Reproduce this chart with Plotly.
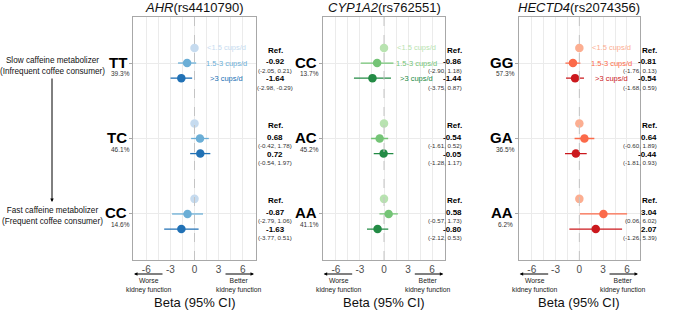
import plotly.graph_objects as go

W, H = 676, 310

genes = ["AHR", "CYP1A2", "HECTD4"]
snps = ["rs4410790", "rs762551", "rs2074356"]
genotypes = [["TT", "TC", "CC"], ["CC", "AC", "AA"], ["GG", "GA", "AA"]]
freqs = [["39.3%", "46.1%", "14.6%"], ["13.7%", "45.2%", "41.1%"], ["57.3%", "36.5%", "6.2%"]]
groups = ["<1.5 cups/d", "1.5-3 cups/d", ">3 cups/d"]

beta_ref = [[0, 0, 0], [0, 0, 0], [0, 0, 0]]
beta_mid = [[-0.92, 0.68, -0.87], [-0.86, -0.54, 0.58], [-0.81, 0.64, 3.04]]
lo_mid = [[-2.05, -0.42, -2.79], [-2.90, -1.61, -0.57], [-1.76, -0.60, 0.06]]
hi_mid = [[0.21, 1.78, 1.06], [1.18, 0.52, 1.73], [0.13, 1.89, 6.02]]
beta_high = [[-1.64, 0.72, -1.63], [-1.44, -0.05, -0.80], [-0.54, -0.44, 2.07]]
lo_high = [[-2.98, -0.54, -3.77], [-3.75, -1.28, -2.12], [-1.68, -1.81, -1.26]]
hi_high = [[-0.29, 1.97, 0.51], [0.87, 1.17, 0.53], [0.59, 0.93, 5.39]]

xticks = [-6, -3, 0, 3, 6]
xminor = [-4.5, -1.5, 1.5, 4.5]

palettes = [["#c6dbef", "#6baed6", "#2171b5"],
            ["#b8e3b0", "#74c476", "#238b45"],
            ["#fcae91", "#fb6a4a", "#cb181d"]]

panels_px = [(133, 256), (322.7, 445.3), (518.7, 640)]
top_px, bot_px = 17, 260
row_y = [3, 2, 1]
offs = [0.2, 0.0, -0.2]
yrange = [0.39, 3.61]
xrange_ = [-7.65, 7.65]


def fx(px):
    return px / W


def fy(py):
    return 1 - py / H


fig = go.Figure()
annotations = []
shapes = []
font_fam = "Liberation Sans, Arial, sans-serif"

for p in range(3):
    xa = "x" if p == 0 else f"x{p+1}"
    ya = "y" if p == 0 else f"y{p+1}"
    axn = "" if p == 0 else str(p + 1)
    cols = palettes[p]
    series = [
        (beta_ref[p], None, None),
        (beta_mid[p], lo_mid[p], hi_mid[p]),
        (beta_high[p], lo_high[p], hi_high[p]),
    ]
    for g in range(3):
        vals, lo, hi = series[g]
        ys = [row_y[i] + offs[g] for i in range(3)]
        kw = {}
        if lo is not None:
            kw["error_x"] = dict(type="data", symmetric=False,
                                 array=[hi[i] - vals[i] for i in range(3)],
                                 arrayminus=[vals[i] - lo[i] for i in range(3)],
                                 color=cols[g], thickness=1.3, width=0)
        fig.add_trace(go.Scatter(x=vals, y=ys, mode="markers", xaxis=xa, yaxis=ya,
                                 marker=dict(color=cols[g], size=8.5),
                                 showlegend=False, hoverinfo="skip", **kw))
        # group label in top row
        annotations.append(dict(x=4, y=row_y[0] + offs[g], xref=xa, yref=ya,
                                text=groups[g], showarrow=False,
                                font=dict(size=7.5, color=cols[g], family=font_fam)))

    x0, x1 = panels_px[p]
    fig.layout[f"xaxis{axn}"] = dict(domain=[fx(x0), fx(x1)], range=xrange_, anchor=ya,
                                     tickvals=xticks, ticktext=[str(t) for t in xticks],
                                     showgrid=True, gridcolor="#ebebeb", gridwidth=1,
                                     minor=dict(tickvals=xminor, showgrid=True, gridcolor="#ebebeb", gridwidth=1),
                                     zeroline=False, showline=True, linecolor="#a8a8a8",
                                     linewidth=1, mirror=True, ticks="",
                                     tickfont=dict(size=10, color="#4d4d4d", family=font_fam),
                                     fixedrange=True)
    fig.layout[f"yaxis{axn}"] = dict(domain=[fy(bot_px), fy(top_px)], range=yrange, anchor=xa,
                                     tickvals=row_y, showticklabels=False,
                                     showgrid=True, gridcolor="#ebebeb", gridwidth=1,
                                     zeroline=False, showline=True, linecolor="#a8a8a8",
                                     linewidth=1, mirror=True, ticks="outside", ticklen=3,
                                     tickcolor="#a8a8a8", fixedrange=True)
    # zero dashed line
    shapes.append(dict(type="line", xref=xa, yref=f"{ya} domain", x0=0, x1=0, y0=0, y1=1,
                       line=dict(color="#c4c4c4", width=1, dash="dash")))

    # title
    annotations.append(dict(x=fx((x0 + x1) / 2), y=fy(8), xref="paper", yref="paper",
                            text=f"<i>{genes[p]}</i>({snps[p]})", showarrow=False,
                            font=dict(size=13, color="#111111", family=font_fam),
                            xanchor="center", yanchor="middle"))
    # x title
    annotations.append(dict(x=fx((x0 + x1) / 2), y=fy(302.5), xref="paper", yref="paper",
                            text="Beta (95% CI)", showarrow=False,
                            font=dict(size=13, color="#111111", family=font_fam),
                            xanchor="center", yanchor="middle"))
    # genotype labels and frequencies
    for i in range(3):
        annotations.append(dict(x=fx(x0 - 4), y=row_y[i], xref="paper", yref=ya,
                                text=f"<b>{genotypes[p][i]}</b>", showarrow=False,
                                xanchor="right", yanchor="middle", yshift=1,
                                font=dict(size=15, color="#000000", family=font_fam)))
        annotations.append(dict(x=fx(x0 - 13), y=row_y[i], xref="paper", yref=ya,
                                text=freqs[p][i], showarrow=False,
                                xanchor="center", yanchor="middle", yshift=-10.5,
                                font=dict(size=6.5, color="#333333", family=font_fam)))
        # right-side values (pixel offsets from the row centre)
        xc = fx(x1 + 19)
        annotations.append(dict(x=xc, y=row_y[i], xref="paper", yref=ya,
                                text="<b>Ref.</b>", showarrow=False, yshift=13,
                                yanchor="middle",
                                font=dict(size=8, color="#000000", family=font_fam)))
        entries = [(beta_mid[p][i], lo_mid[p][i], hi_mid[p][i], 1.5),
                   (beta_high[p][i], lo_high[p][i], hi_high[p][i], -15.5)]
        for b, l, h, sh in entries:
            annotations.append(dict(x=xc, y=row_y[i], xref="paper", yref=ya,
                                    text=f"<b>{b:.2f}</b>", showarrow=False, yshift=sh,
                                    yanchor="middle",
                                    font=dict(size=8, color="#000000", family=font_fam)))
            annotations.append(dict(x=xc, y=row_y[i], xref="paper", yref=ya,
                                    text=f"({l:.2f}, {h:.2f})", showarrow=False, yshift=sh - 8.5,
                                    yanchor="middle",
                                    font=dict(size=6.2, color="#333333", family=font_fam)))

    # bottom arrows
    annotations.append(dict(x=fx(x0 + 1), y=fy(274), ax=30, ay=0,
                            xref="paper", yref="paper",
                            showarrow=True, arrowhead=2, arrowsize=0.7, arrowwidth=1,
                            arrowcolor="#000000", text=""))
    annotations.append(dict(x=fx(x1 - 2), y=fy(274), ax=-30, ay=0,
                            xref="paper", yref="paper",
                            showarrow=True, arrowhead=2, arrowsize=0.7, arrowwidth=1,
                            arrowcolor="#000000", text=""))
    annotations.append(dict(x=fx(x0 + 16), y=fy(285), xref="paper", yref="paper",
                            text="Worse<br>kidney function", showarrow=False,
                            font=dict(size=6.8, color="#222222", family=font_fam),
                            xanchor="center", yanchor="middle"))
    annotations.append(dict(x=fx(x1 - 17), y=fy(285), xref="paper", yref="paper",
                            text="Better<br>kidney function", showarrow=False,
                            font=dict(size=6.8, color="#222222", family=font_fam),
                            xanchor="center", yanchor="middle"))

# left descriptive labels
annotations.append(dict(x=fx(52), y=fy(65.5), xref="paper", yref="paper",
                        text="Slow caffeine metabolizer<br>(Infrequent coffee consumer)",
                        showarrow=False, font=dict(size=8.2, color="#111111", family=font_fam),
                        xanchor="center", yanchor="middle"))
annotations.append(dict(x=fx(52), y=fy(215.5), xref="paper", yref="paper",
                        text="Fast caffeine metabolizer<br>(Frequent coffee consumer)",
                        showarrow=False, font=dict(size=8.2, color="#111111", family=font_fam),
                        xanchor="center", yanchor="middle"))
annotations.append(dict(x=fx(52), y=fy(202), ax=0, ay=-125,
                        xref="paper", yref="paper",
                        showarrow=True, arrowhead=2, arrowsize=0.7, arrowwidth=1,
                        arrowcolor="#000000", text=""))

fig.update_layout(width=W, height=H, margin=dict(l=0, r=0, t=0, b=0),
                  paper_bgcolor="white", plot_bgcolor="white",
                  annotations=annotations, shapes=shapes,
                  font=dict(family=font_fam))

fig.write_html("out.html")
